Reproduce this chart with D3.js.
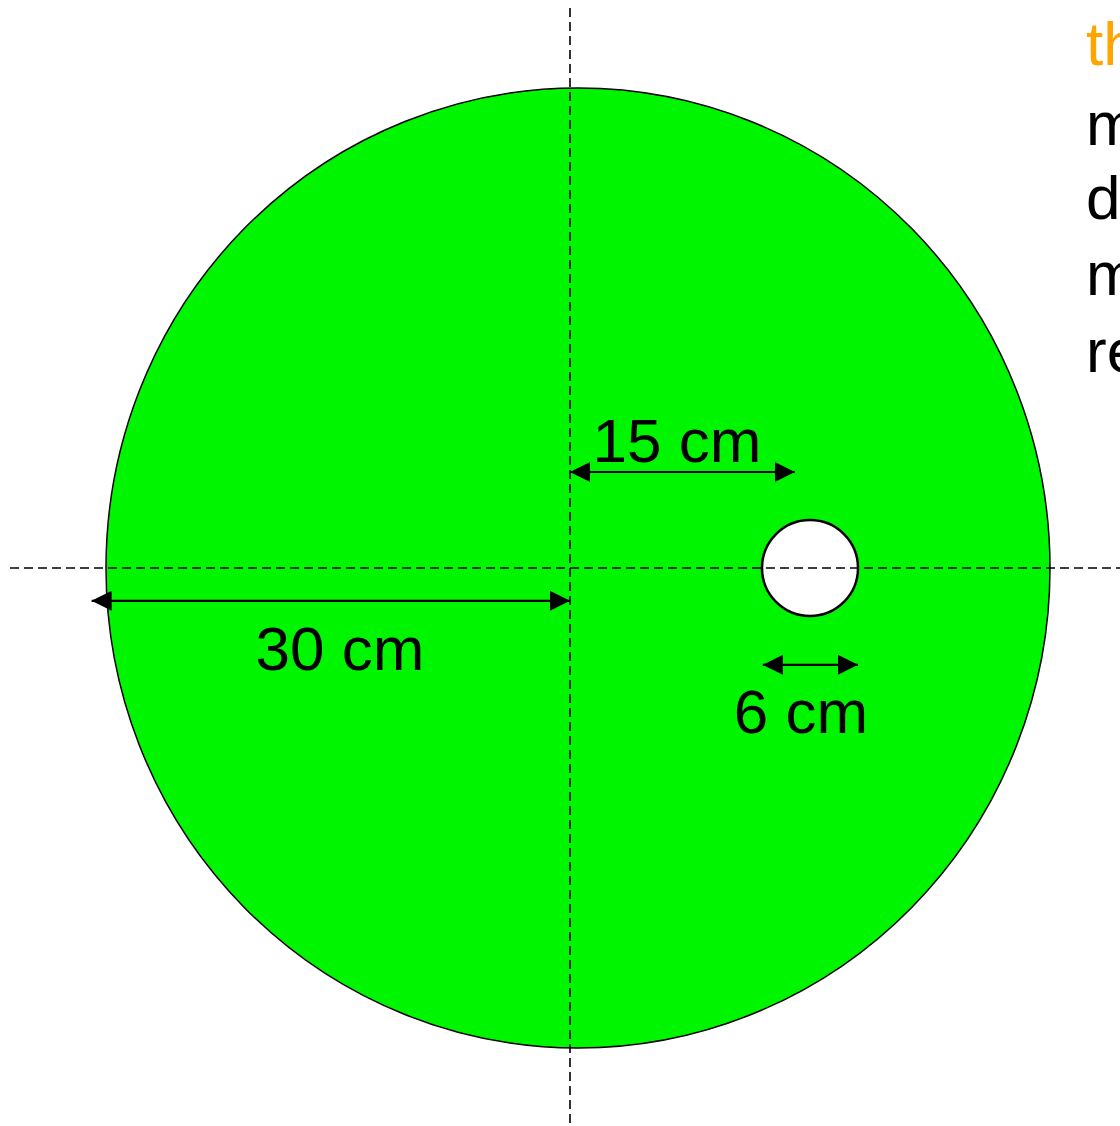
<!DOCTYPE html>
<html>
<head>
<meta charset="utf-8">
<script src="https://cdn.jsdelivr.net/npm/d3@7"></script>
<style>
html,body{margin:0;padding:0;background:#fff;overflow:hidden;}
svg{display:block;}
</style>
</head>
<body>
<script>
// ---- data (centimetres; origin = crossing of the dashed axes) ----
const shapeNames   = ["disc", "hole"];
const shapeCx      = [0.5, 15];     // centre x, cm
const shapeRx      = [29.5, 3];     // horizontal radius, cm
const shapeRy      = [30, 3];       // vertical radius, cm
const dimLabels    = ["30 cm", "15 cm", "6 cm"];
const dimFrom      = [-29.9, 0, 12.05];
const dimTo        = [0, 14.05, 18];
const dimAt        = [-2.05, 6, -6.05];   // vertical position of the arrow, cm
const sideLines    = ["th", "m", "d", "m", "re"];
const sideColors   = ["#ffa500", "#000", "#000", "#000", "#000"];

// ---- layout ----
const W = 1120, H = 1126;
const svg = d3.select("body").append("svg").attr("width", W).attr("height", H);

// 16 px per cm, origin at (570, 568)
const x = d3.scaleLinear().domain([0, 1]).range([570, 586]);
const y = d3.scaleLinear().domain([0, 1]).range([568, 552]);

const defs = svg.append("defs");
["start", "end"].forEach(k => {
  defs.append("marker")
    .attr("id", "ah-" + k)
    .attr("viewBox", "0 0 20 20")
    .attr("refX", k === "end" ? 20 : 0).attr("refY", 10)
    .attr("markerWidth", 20).attr("markerHeight", 20)
    .attr("markerUnits", "userSpaceOnUse")
    .attr("orient", "auto")
    .append("path")
    .attr("d", k === "end" ? "M0,0 L20,10 L0,20 Z" : "M20,0 L0,10 L20,20 Z")
    .attr("fill", "#000");
});

// disc and hole
svg.selectAll("ellipse.shape")
  .data(shapeNames.map((n, i) => ({ n, cx: shapeCx[i], rx: shapeRx[i], ry: shapeRy[i] })))
  .join("ellipse")
  .attr("class", "shape")
  .attr("cx", d => x(d.cx))
  .attr("cy", y(0))
  .attr("rx", d => x(d.rx) - x(0))
  .attr("ry", d => y(0) - y(d.ry))
  .attr("fill", d => d.n === "disc" ? "#00f500" : "#fff")
  .attr("stroke", "#000")
  .attr("stroke-width", d => d.n === "disc" ? 1.5 : 2.5);

// dashed axes
const dash = "9,5";
svg.append("line")
  .attr("x1", x(0)).attr("x2", x(0))
  .attr("y1", 8).attr("y2", H)
  .attr("stroke", "#000").attr("stroke-width", 1.6).attr("stroke-dasharray", dash);
svg.append("line")
  .attr("x1", 10).attr("x2", W)
  .attr("y1", y(0)).attr("y2", y(0))
  .attr("stroke", "#000").attr("stroke-width", 1.6).attr("stroke-dasharray", dash);

// dimension arrows
const dims = dimLabels.map((l, i) => ({ l, a: dimFrom[i], b: dimTo[i], at: dimAt[i] }));
svg.selectAll("line.dim")
  .data(dims)
  .join("line")
  .attr("class", "dim")
  .attr("x1", d => x(d.a)).attr("x2", d => x(d.b))
  .attr("y1", d => y(d.at)).attr("y2", d => y(d.at))
  .attr("stroke", "#000").attr("stroke-width", 2.2)
  .attr("marker-start", "url(#ah-start)")
  .attr("marker-end", "url(#ah-end)");

// dimension labels (centre x in px, baseline in px)
const labelPos = [[340, 670], [677, 462], [801, 733]];
svg.selectAll("text.dimlabel")
  .data(dims)
  .join("text")
  .attr("class", "dimlabel")
  .attr("x", (d, i) => labelPos[i][0])
  .attr("y", (d, i) => labelPos[i][1])
  .attr("text-anchor", "middle")
  .attr("font-family", "'Liberation Sans', Arial, sans-serif")
  .attr("font-size", 62)
  .attr("fill", "#000")
  .text(d => d.l);

// clipped side text
const sideBase = [65, 145, 219, 295, 372];
svg.selectAll("text.side")
  .data(sideLines)
  .join("text")
  .attr("class", "side")
  .attr("x", 1086)
  .attr("y", (d, i) => sideBase[i])
  .attr("font-family", "'Liberation Sans', Arial, sans-serif")
  .attr("font-size", 62)
  .attr("fill", (d, i) => sideColors[i])
  .text(d => d);
</script>
</body>
</html>
